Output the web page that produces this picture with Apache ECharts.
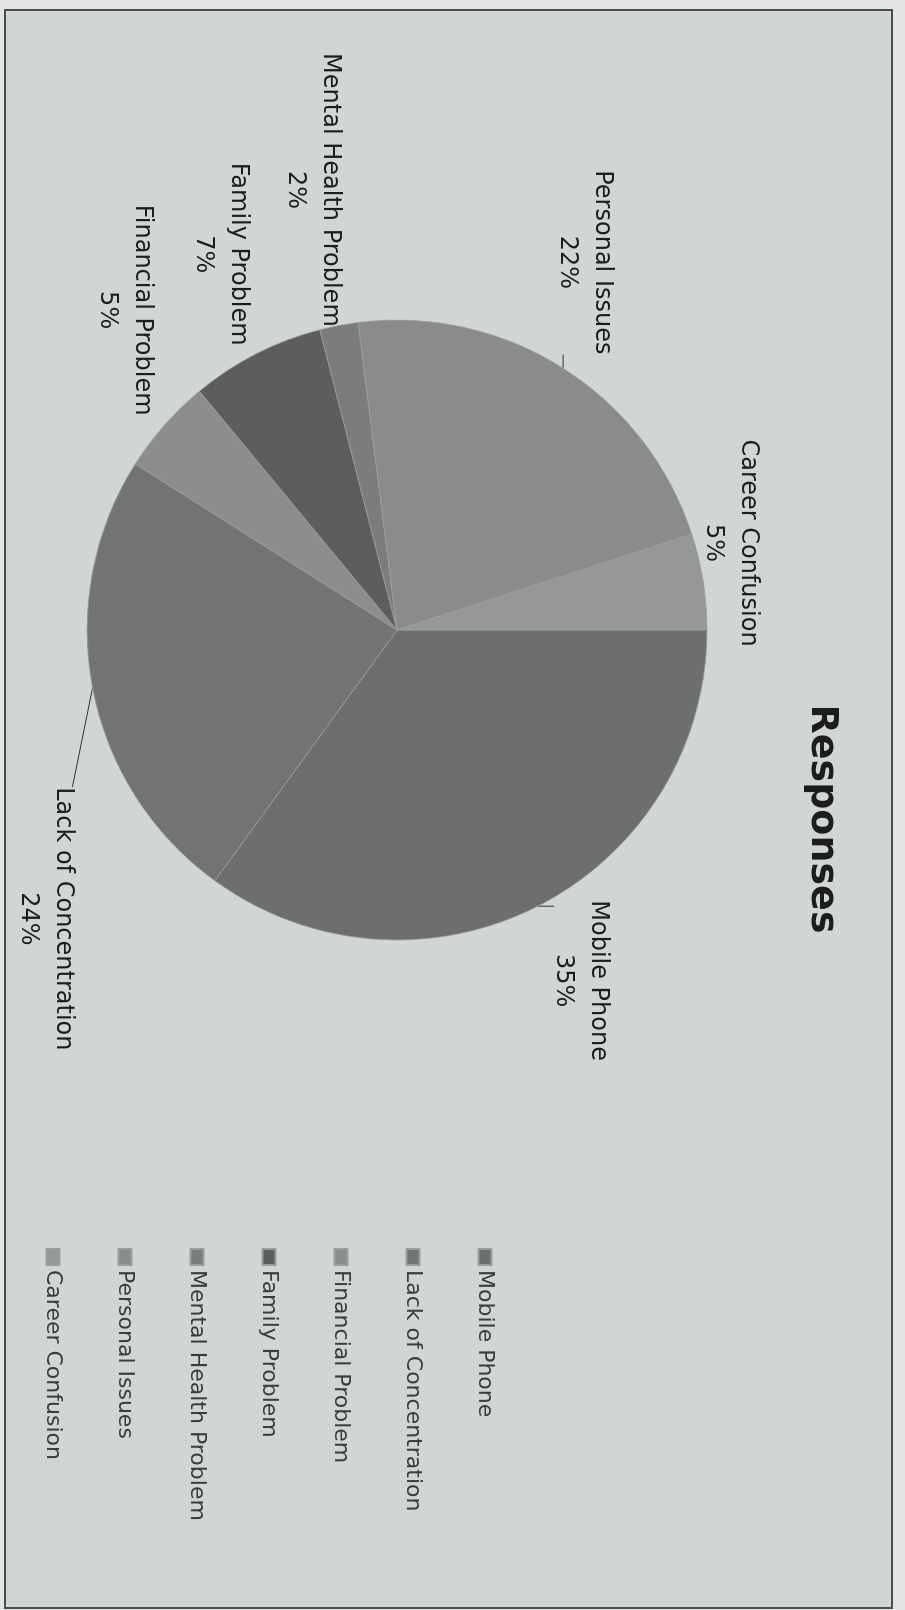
<!DOCTYPE html>
<html>
<head>
<meta charset="utf-8">
<script src="https://cdn.jsdelivr.net/npm/echarts@6/dist/echarts.min.js"></script>
<style>
html,body{margin:0;padding:0;width:905px;height:1610px;overflow:hidden;background:#e2e5e3;}
#chart{position:absolute;left:0;top:0;width:1610px;height:905px;transform-origin:0 0;transform:translate(905px,0) rotate(90deg);}
</style>
</head>
<body>
<div id="chart"></div>
<script>
// ---- data ----
const titleText = 'Responses';
const categories = ['Mobile Phone', 'Lack of Concentration', 'Financial Problem', 'Family Problem', 'Mental Health Problem', 'Personal Issues', 'Career Confusion'];
const percentages = [35, 24, 5, 7, 2, 22, 5];

// ---- styles / layout ----
const sliceColors = ['#6c6f6d', '#717472', '#8b8e8c', '#5b5e5c', '#7a7d7b', '#898c8a', '#959896'];
const CX = 630, CY = 508, R = 310;
// per-label [angle offset (deg), extra radial distance (px)] to mimic the original label placement
const labelPlacement = [[-0.7, 86], [-28.6, 145], [8.2, 110], [1.9, 105], [0, 138], [-5.3, 103], [-5.6, 35]];
const leaderShown = [true, true, false, false, false, true, false];
const FONT = 'DejaVu Sans';

const total = percentages.reduce((a, b) => a + b, 0);
const midAngles = [];
let cum = 0;
percentages.forEach(v => { midAngles.push((cum + v / 2) / total * 360); cum += v; });
function polar(angDeg, r) {
  const a = angDeg * Math.PI / 180;
  return [CX + r * Math.sin(a), CY - r * Math.cos(a)];
}

const chart = echarts.init(document.getElementById('chart'), null, {renderer: 'canvas'});
const option = {
  animation: false,
  backgroundColor: 'transparent',
  color: sliceColors,
  graphic: [{
    type: 'rect', z: -10, silent: true,
    shape: {x: 10, y: 13, width: 1598, height: 887},
    style: {fill: '#d1d6d2', stroke: '#4a4d4b', lineWidth: 2}
  }],
  title: {
    text: titleText,
    left: 814, top: 59, textAlign: 'center',
    textStyle: {fontFamily: FONT, fontSize: 38, fontWeight: 'bold', color: '#1c1e1d'}
  },
  legend: {
    orient: 'vertical',
    left: 1243, top: 404,
    itemWidth: 16, itemHeight: 13, itemGap: 50,
    icon: 'rect',
    data: categories,
    textStyle: {fontFamily: FONT, fontSize: 22, lineHeight: 22, color: '#3a3c3b'}
  },
  series: [{
    type: 'pie',
    center: [CX, CY],
    radius: R,
    startAngle: 90,
    clockwise: true,
    avoidLabelOverlap: false,
    percentPrecision: 0,
    silent: true,
    itemStyle: {borderColor: '#9a9e9b', borderWidth: 0.8},
    label: {
      show: true,
      position: 'outside',
      formatter: '{b}\n{d}%',
      fontFamily: FONT, fontSize: 24, lineHeight: 35,
      color: '#1c1e1d', align: 'center'
    },
    labelLine: {show: true, length: 5, length2: 5, lineStyle: {color: '#333', width: 1}},
    labelLayout: function (p) {
      const i = p.dataIndex;
      const pl = labelPlacement[i];
      const c = polar(midAngles[i] + pl[0], R + pl[1]);
      const w = p.labelRect.width, h = p.labelRect.height;
      const start = polar(midAngles[i], R);
      const left = c[0] - w / 2, top = c[1] - h / 2;
      const end = [Math.min(Math.max(start[0], left), left + w), Math.min(Math.max(start[1], top + 8), top + h - 8)];
      return {x: c[0], y: c[1], align: 'center', verticalAlign: 'middle', labelLinePoints: [start, end]};
    },
    data: categories.map((n, i) => ({
      name: n, value: percentages[i],
      labelLine: {show: leaderShown[i]}
    }))
  }]
};
chart.setOption(option);
</script>
</body>
</html>
